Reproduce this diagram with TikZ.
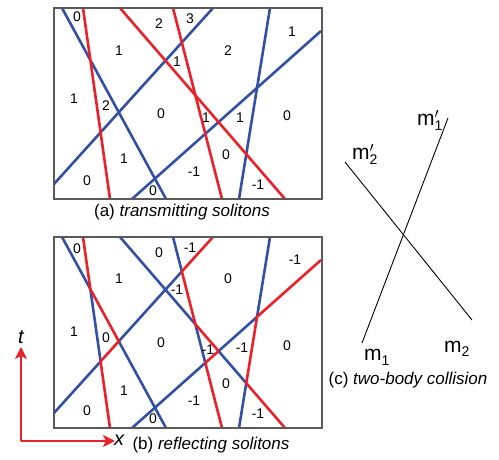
\documentclass[tikz,border=0pt]{standalone}
\usepackage{fontspec}
\setmainfont{Liberation Sans}
\usetikzlibrary{arrows.meta}
\definecolor{solblue}{RGB}{50,80,164}
\definecolor{solred}{RGB}{236,32,40}
\definecolor{boxgray}{RGB}{90,90,90}
\newcommand{\solgeom}[1]{%
  \coordinate (#1B1t) at (62,8);   \coordinate (#1B1b) at (166,199);
  \coordinate (#1R1t) at (83,8);   \coordinate (#1R1b) at (110,199);
  \coordinate (#1R2t) at (120,8);  \coordinate (#1R2b) at (285,199);
  \coordinate (#1R3t) at (173,8);  \coordinate (#1R3b) at (222,199);
  \coordinate (#1B2l) at (54,184); \coordinate (#1B2t) at (213,8);
  \coordinate (#1B3b) at (132,199);\coordinate (#1B3r) at (321,31);
  \coordinate (#1B4t) at (270,8);  \coordinate (#1B4b) at (239,199);
  \coordinate (#1X1) at (intersection of #1B1t--#1B1b and #1R1t--#1R1b);
  \coordinate (#1X2) at (intersection of #1B1t--#1B1b and #1B2l--#1B2t);
  \coordinate (#1X3) at (intersection of #1B1t--#1B1b and #1B3b--#1B3r);
  \coordinate (#1X4) at (intersection of #1R1t--#1R1b and #1B2l--#1B2t);
  \coordinate (#1X5) at (intersection of #1B2l--#1B2t and #1R2t--#1R2b);
  \coordinate (#1X6) at (intersection of #1B2l--#1B2t and #1R3t--#1R3b);
  \coordinate (#1X7) at (intersection of #1R2t--#1R2b and #1R3t--#1R3b);
  \coordinate (#1X8) at (intersection of #1R2t--#1R2b and #1B3b--#1B3r);
  \coordinate (#1X9) at (intersection of #1R2t--#1R2b and #1B4t--#1B4b);
  \coordinate (#1X10) at (intersection of #1R3t--#1R3b and #1B3b--#1B3r);
  \coordinate (#1X11) at (intersection of #1B3b--#1B3r and #1B4t--#1B4b);
  \coordinate (#1BoxTL) at (54,8); \coordinate (#1BoxBR) at (322,199);
}
\tikzset{
  bl/.style={draw=solblue,line width=2.6pt,line join=round},
  rd/.style={draw=solred,line width=2.6pt,line join=round},
  frame/.style={draw=boxgray,line width=1.1pt},
  lab/.style={font=\fontsize{14}{14}\selectfont,inner sep=0pt},
  captxt/.style={font=\fontsize{17}{17}\selectfont,inner sep=0pt},
  axlab/.style={font=\fontsize{20}{20}\selectfont\itshape,inner sep=0pt},
  mlab/.style={font=\fontsize{21}{21}\selectfont,inner sep=0pt,anchor=base west},
  axis/.style={draw=solred,line width=1.2pt,-{Stealth[length=12pt,width=12pt,inset=3pt]}},
}
\newcommand{\mpr}[1]{m\rlap{\raisebox{7pt}{\fontsize{14}{14}\selectfont$\prime$}}\raisebox{-5pt}{\fontsize{14}{14}\selectfont #1}}
\newcommand{\mnp}[1]{m\raisebox{-5pt}{\fontsize{14}{14}\selectfont #1}}
\begin{document}
\begin{tikzpicture}[x=1pt,y=-1pt]
\useasboundingbox (0,0) rectangle (499,460);
% ---------- (a) transmitting ----------
\solgeom{a}
\draw[bl] (aB1t) -- (aB1b);
\draw[bl] (aB2l) -- (aB2t);
\draw[bl] (aB3b) -- (aB3r);
\draw[bl] (aB4t) -- (aB4b);
\draw[rd] (aR1t) -- (aR1b);
\draw[rd] (aR2t) -- (aR2b);
\draw[rd] (aR3t) -- (aR3b);
\draw[frame] (aBoxTL) rectangle (aBoxBR);
\node[lab] (aL1) at (77,17) {0};
\node[lab] (aL2) at (159,24) {2};
\node[lab] (aL3) at (190,19) {3};
\node[lab] (aL4) at (292,32) {1};
\node[lab] (aL5) at (119,51) {1};
\node[lab] (aL6) at (228,51) {2};
\node[lab] (aL7) at (177,62) {1};
\node[lab] (aL8) at (74,99) {1};
\node[lab] (aL9) at (106,106) {2};
\node[lab] (aL10) at (161,114) {0};
\node[lab] (aL11) at (206,118) {1};
\node[lab] (aL12) at (240,118) {1};
\node[lab] (aL13) at (287,116) {0};
\node[lab] (aL14) at (226,155) {0};
\node[lab] (aL15) at (124,159) {1};
\node[lab] (aL16) at (194,172) {-1};
\node[lab] (aL17) at (258,185) {-1};
\node[lab] (aL18) at (87,181) {0};
\node[lab] (aL19) at (153,191) {0};
\node[captxt] (capa) at (182,212) {(a) \textit{transmitting solitons}};
% ---------- (b) reflecting ----------
\begin{scope}[yshift=-229pt]
\solgeom{b}
\draw[bl] (bB1t) -- (bX1) -- (bX4) -- (bB2l);
\draw[bl] (bR3t) -- (bX6) -- (bX5) -- (bX2) -- (bX3) -- (bB1b);
\draw[bl] (bR2t) -- (bX5) -- (bX7) -- (bX10) -- (bX3) -- (bB3b);
\draw[bl] (bB4t) -- (bX11) -- (bX8) -- (bX9) -- (bB4b);
\draw[rd] (bR1t) -- (bX1) -- (bX2) -- (bX4) -- (bR1b);
\draw[rd] (bB2t) -- (bX6) -- (bX7) -- (bX8) -- (bX10) -- (bR3b);
\draw[rd] (bB3r) -- (bX11) -- (bX9) -- (bR2b);
\draw[frame] (bBoxTL) rectangle (bBoxBR);
\node[lab] (bL1) at (77,20) {0};
\node[lab] (bL2) at (159,24) {0};
\node[lab] (bL3) at (190,19) {-1};
\node[lab] (bL4) at (295,31) {-1};
\node[lab] (bL5) at (119,50) {1};
\node[lab] (bL6) at (228,50) {0};
\node[lab] (bL7) at (177,61) {-1};
\node[lab] (bL8) at (74,103) {1};
\node[lab] (bL9) at (106,109) {0};
\node[lab] (bL10) at (161,114) {0};
\node[lab] (bL11) at (208,121) {-1};
\node[lab] (bL12) at (242,119) {-1};
\node[lab] (bL13) at (287,117) {0};
\node[lab] (bL14) at (226,155) {0};
\node[lab] (bL15) at (124,162) {1};
\node[lab] (bL16) at (194,172) {-1};
\node[lab] (bL17) at (258,185) {-1};
\node[lab] (bL18) at (87,182) {0};
\node[lab] (bL19) at (153,190) {0};
\end{scope}
% axes
\coordinate (O) at (21,441);
\coordinate (T) at (21,347);
\coordinate (Xe) at (115,441);
\draw[axis] (O) -- (T);
\draw[axis] (O) -- (Xe);
\node[axlab] (tlab) at (21,337) {t};
\node[axlab] (xlab) at (119,440) {x};
\node[captxt] (capb) at (211,445) {(b) \textit{reflecting solitons}};
% ---------- (c) two-body collision ----------
\coordinate (m1s) at (362,343);
\coordinate (m1e) at (448,118);
\coordinate (m2s) at (345,162);
\coordinate (m2e) at (472,320);
\draw[line width=0.9pt] (m1s) -- (m1e);
\draw[line width=0.9pt] (m2s) -- (m2e);
\node[mlab] (lm1p) at (417,126) {\mpr{1}};
\node[mlab] (lm2p) at (352,160) {\mpr{2}};
\node[mlab] (lm1) at (364,360) {\mnp{1}};
\node[mlab] (lm2) at (444,352) {\mnp{2}};
\node[captxt] (capc) at (408,380) {(c) \textit{two-body collision}};
\end{tikzpicture}
\end{document}
